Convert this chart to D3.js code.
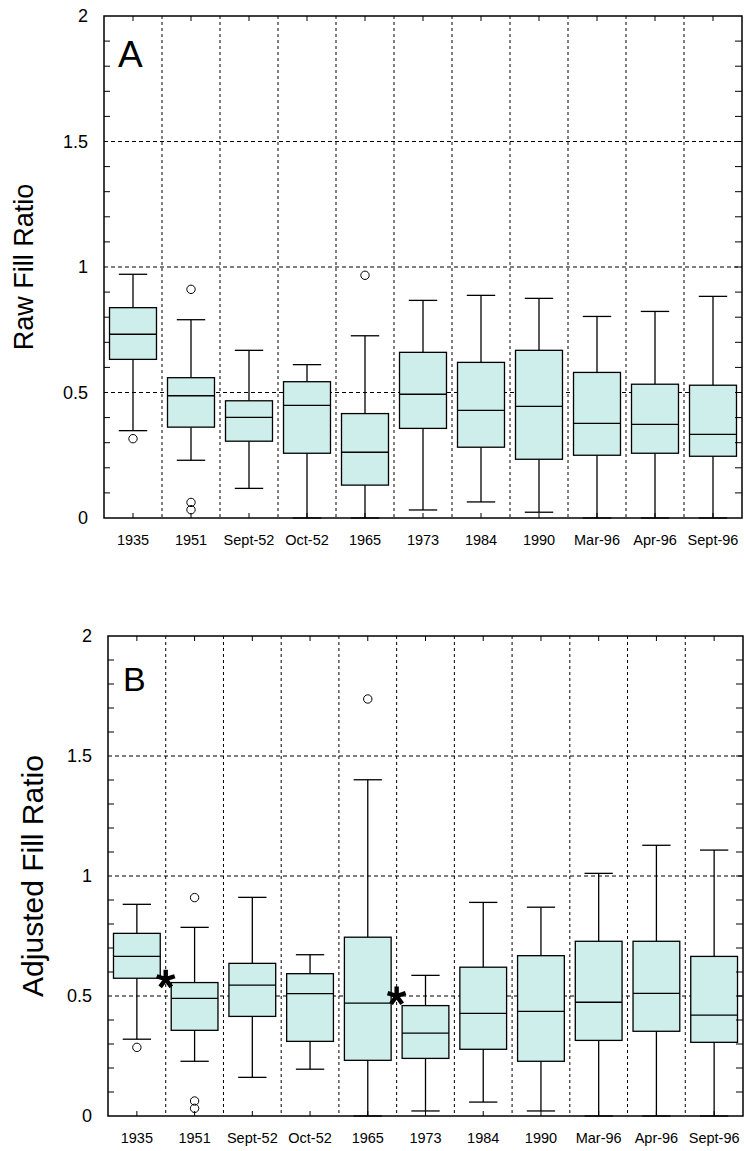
<!DOCTYPE html>
<html>
<head>
<meta charset="utf-8">
<script src="https://cdn.jsdelivr.net/npm/d3@7"></script>
<style>
  html, body { margin: 0; padding: 0; background: #fff; }
  svg { display: block; font-family: "Liberation Sans", Arial, sans-serif; }
</style>
</head>
<body>
<svg id="chart" width="744" height="1151"></svg>
<script>
// Sampling dates (x categories)
const categories = ["1935", "1951", "Sept-52", "Oct-52", "1965", "1973", "1984", "1990", "Mar-96", "Apr-96", "Sept-96"];

// Y axis ticks
const yTicks = [0, 0.5, 1, 1.5, 2];
const yTickLabels = ["0", "0.5", "1", "1.5", "2"];
const yMinorTicks = [0.1, 0.2, 0.3, 0.4, 0.6, 0.7, 0.8, 0.9, 1.1, 1.2, 1.3, 1.4, 1.6, 1.7, 1.8, 1.9];

// Panel A: raw fill ratio box statistics
const rawHigh   = [0.971, 0.790, 0.668, 0.611, 0.726, 0.867, 0.887, 0.875, 0.803, 0.823, 0.883];
const rawQ3     = [0.838, 0.559, 0.467, 0.543, 0.416, 0.660, 0.620, 0.668, 0.580, 0.533, 0.529];
const rawMedian = [0.732, 0.487, 0.401, 0.449, 0.262, 0.493, 0.429, 0.445, 0.377, 0.373, 0.333];
const rawQ1     = [0.632, 0.362, 0.306, 0.258, 0.131, 0.357, 0.282, 0.234, 0.250, 0.258, 0.246];
const rawLow    = [0.348, 0.230, 0.118, 0.000, 0.000, 0.032, 0.064, 0.023, 0.000, 0.000, 0.000];
const rawOutliers = [[0.316], [0.911, 0.062, 0.033], [], [], [0.967], [], [], [], [], [], []];

// Panel B: adjusted fill ratio box statistics
const adjHigh   = [0.882, 0.786, 0.911, 0.672, 1.401, 0.586, 0.890, 0.870, 1.011, 1.128, 1.108];
const adjQ3     = [0.761, 0.556, 0.636, 0.593, 0.745, 0.460, 0.620, 0.668, 0.728, 0.728, 0.665];
const adjMedian = [0.665, 0.490, 0.545, 0.510, 0.470, 0.345, 0.428, 0.436, 0.474, 0.511, 0.420];
const adjQ1     = [0.574, 0.357, 0.415, 0.311, 0.232, 0.240, 0.278, 0.228, 0.315, 0.353, 0.307];
const adjLow    = [0.320, 0.228, 0.161, 0.195, 0.000, 0.021, 0.058, 0.021, 0.000, 0.000, 0.000];
const adjOutliers = [[0.286], [0.910, 0.0625, 0.032], [], [], [1.7375], [], [], [], [], [], []];

// Significant-change markers, placed on the boundary after the named category
const adjMarkerAfter = ["1935", "1965"];
const adjMarkerValue = [0.57, 0.50];

const svg = d3.select("#chart");
const FONT = "'Liberation Sans', Arial, sans-serif";
const BOX_FILL = "#cdeeea";

function drawPanel(p) {
  const x = d3.scaleBand().domain(categories).range([p.left, p.right]);
  const y = d3.scaleLinear().domain([0, 2]).range([p.bottom, p.top]);
  const bw = x.bandwidth();
  const g = svg.append("g");

  // dashed grid: category boundaries and major y values
  const bounds = categories.slice(1).map(c => x(c));
  g.selectAll(".vgrid").data(bounds).join("line")
    .attr("x1", d => d).attr("x2", d => d)
    .attr("y1", p.top).attr("y2", p.bottom)
    .attr("stroke", "#000").attr("stroke-width", 1).attr("stroke-dasharray", "3,3");
  g.selectAll(".hgrid").data([0.5, 1, 1.5]).join("line")
    .attr("x1", p.left).attr("x2", p.right)
    .attr("y1", d => y(d)).attr("y2", d => y(d))
    .attr("stroke", "#000").attr("stroke-width", 1).attr("stroke-dasharray", "4,3");

  const rows = categories.map((c, i) => ({
    c, lo: p.low[i], q1: p.q1[i], med: p.median[i], q3: p.q3[i], hi: p.high[i], out: p.outliers[i]
  }));
  const cx = d => x(d.c) + bw / 2;
  const boxW = bw * 0.81, capW = bw * 0.49;

  const b = g.selectAll(".box").data(rows).join("g");
  // whiskers
  b.append("line").attr("x1", cx).attr("x2", cx)
    .attr("y1", d => y(d.hi)).attr("y2", d => y(d.q3))
    .attr("stroke", "#000").attr("stroke-width", 1.3);
  b.append("line").attr("x1", cx).attr("x2", cx)
    .attr("y1", d => y(d.q1)).attr("y2", d => y(d.lo))
    .attr("stroke", "#000").attr("stroke-width", 1.3);
  b.append("line").attr("x1", d => cx(d) - capW / 2).attr("x2", d => cx(d) + capW / 2)
    .attr("y1", d => y(d.hi)).attr("y2", d => y(d.hi))
    .attr("stroke", "#000").attr("stroke-width", 1.3);
  b.append("line").attr("x1", d => cx(d) - capW / 2).attr("x2", d => cx(d) + capW / 2)
    .attr("y1", d => y(d.lo)).attr("y2", d => y(d.lo))
    .attr("stroke", "#000").attr("stroke-width", 1.3);
  // box
  b.append("rect").attr("x", d => cx(d) - boxW / 2).attr("width", boxW)
    .attr("y", d => y(d.q3)).attr("height", d => y(d.q1) - y(d.q3))
    .attr("fill", BOX_FILL).attr("stroke", "#000").attr("stroke-width", 1.3);
  // median
  b.append("line").attr("x1", d => cx(d) - boxW / 2).attr("x2", d => cx(d) + boxW / 2)
    .attr("y1", d => y(d.med)).attr("y2", d => y(d.med))
    .attr("stroke", "#000").attr("stroke-width", 1.3);
  // outliers
  b.selectAll("circle").data(d => d.out.map(v => ({ c: d.c, v }))).join("circle")
    .attr("cx", cx).attr("cy", d => y(d.v)).attr("r", 4.2)
    .attr("fill", "none").attr("stroke", "#000").attr("stroke-width", 1);

  // frame
  g.append("rect").attr("x", p.left).attr("y", p.top)
    .attr("width", p.right - p.left).attr("height", p.bottom - p.top)
    .attr("fill", "none").attr("stroke", "#000").attr("stroke-width", 1.5);

  // inward ticks on all four sides
  const tickLen = 6;
  g.selectAll(".lt").data(yMinorTicks).join("line")
    .attr("x1", p.left).attr("x2", p.left + tickLen)
    .attr("y1", d => y(d)).attr("y2", d => y(d)).attr("stroke", "#000").attr("stroke-width", 1);
  g.selectAll(".rt").data(yMinorTicks.concat([0.5, 1, 1.5])).join("line")
    .attr("x1", p.right).attr("x2", p.right - 7)
    .attr("y1", d => y(d)).attr("y2", d => y(d)).attr("stroke", "#000").attr("stroke-width", 1);
  g.selectAll(".tt").data(categories).join("line")
    .attr("x1", d => x(d) + bw / 2).attr("x2", d => x(d) + bw / 2)
    .attr("y1", p.top).attr("y2", p.top + 5).attr("stroke", "#000").attr("stroke-width", 1);
  g.selectAll(".bt").data(categories).join("line")
    .attr("x1", d => x(d) + bw / 2).attr("x2", d => x(d) + bw / 2)
    .attr("y1", p.bottom).attr("y2", p.bottom - 5).attr("stroke", "#000").attr("stroke-width", 1);

  // y tick labels
  const yAxis = d3.axisLeft(y).tickValues(yTicks)
    .tickFormat((d, i) => yTickLabels[i]).tickSize(0).tickPadding(16);
  const ya = g.append("g").attr("transform", `translate(${p.left},0)`).call(yAxis);
  ya.select(".domain").remove();
  ya.selectAll("text").attr("font-family", FONT).attr("font-size", 18).attr("fill", "#000");

  // x category labels
  const xAxis = d3.axisBottom(x).tickSize(0).tickPadding(17);
  const xa = g.append("g").attr("transform", `translate(0,${p.bottom})`).call(xAxis);
  xa.select(".domain").remove();
  xa.selectAll("text").attr("font-family", FONT).attr("font-size", 14.5).attr("fill", "#000");

  // y title
  g.append("text")
    .attr("transform", `translate(${p.titleX},${(p.top + p.bottom) / 2}) rotate(-90)`)
    .attr("text-anchor", "middle")
    .attr("font-family", FONT).attr("font-size", p.titleSize).attr("fill", "#000")
    .text(p.title);

  // panel letter
  g.append("text").attr("x", p.left + p.letterDx).attr("y", p.letterY)
    .attr("font-family", FONT).attr("font-size", p.letterSize).attr("fill", "#000")
    .text(p.letter);

  // significance asterisks
  if (p.markerAfter) {
    const star = d3.range(5).map(k => {
      const a = (-90 + 72 * k) * Math.PI / 180;
      return `M0,0L${(9.5 * Math.cos(a)).toFixed(2)},${(9.5 * Math.sin(a)).toFixed(2)}`;
    }).join("");
    p.markerAfter.forEach((c, i) => {
      g.append("path")
        .attr("transform", `translate(${x(c) + bw},${y(p.markerValue[i])})`)
        .attr("d", star).attr("stroke", "#000").attr("stroke-width", 4.4)
        .attr("fill", "none");
    });
  }
}

drawPanel({
  left: 104, right: 742, top: 16, bottom: 518,
  low: rawLow, q1: rawQ1, median: rawMedian, q3: rawQ3, high: rawHigh, outliers: rawOutliers,
  title: "Raw Fill Ratio", titleX: 33, titleSize: 27,
  letter: "A", letterDx: 14, letterY: 67, letterSize: 37
});

drawPanel({
  left: 108, right: 743, top: 636, bottom: 1116,
  low: adjLow, q1: adjQ1, median: adjMedian, q3: adjQ3, high: adjHigh, outliers: adjOutliers,
  title: "Adjusted Fill Ratio", titleX: 43, titleSize: 30,
  letter: "B", letterDx: 15, letterY: 691, letterSize: 34,
  markerAfter: adjMarkerAfter, markerValue: adjMarkerValue
});
</script>
</body>
</html>
